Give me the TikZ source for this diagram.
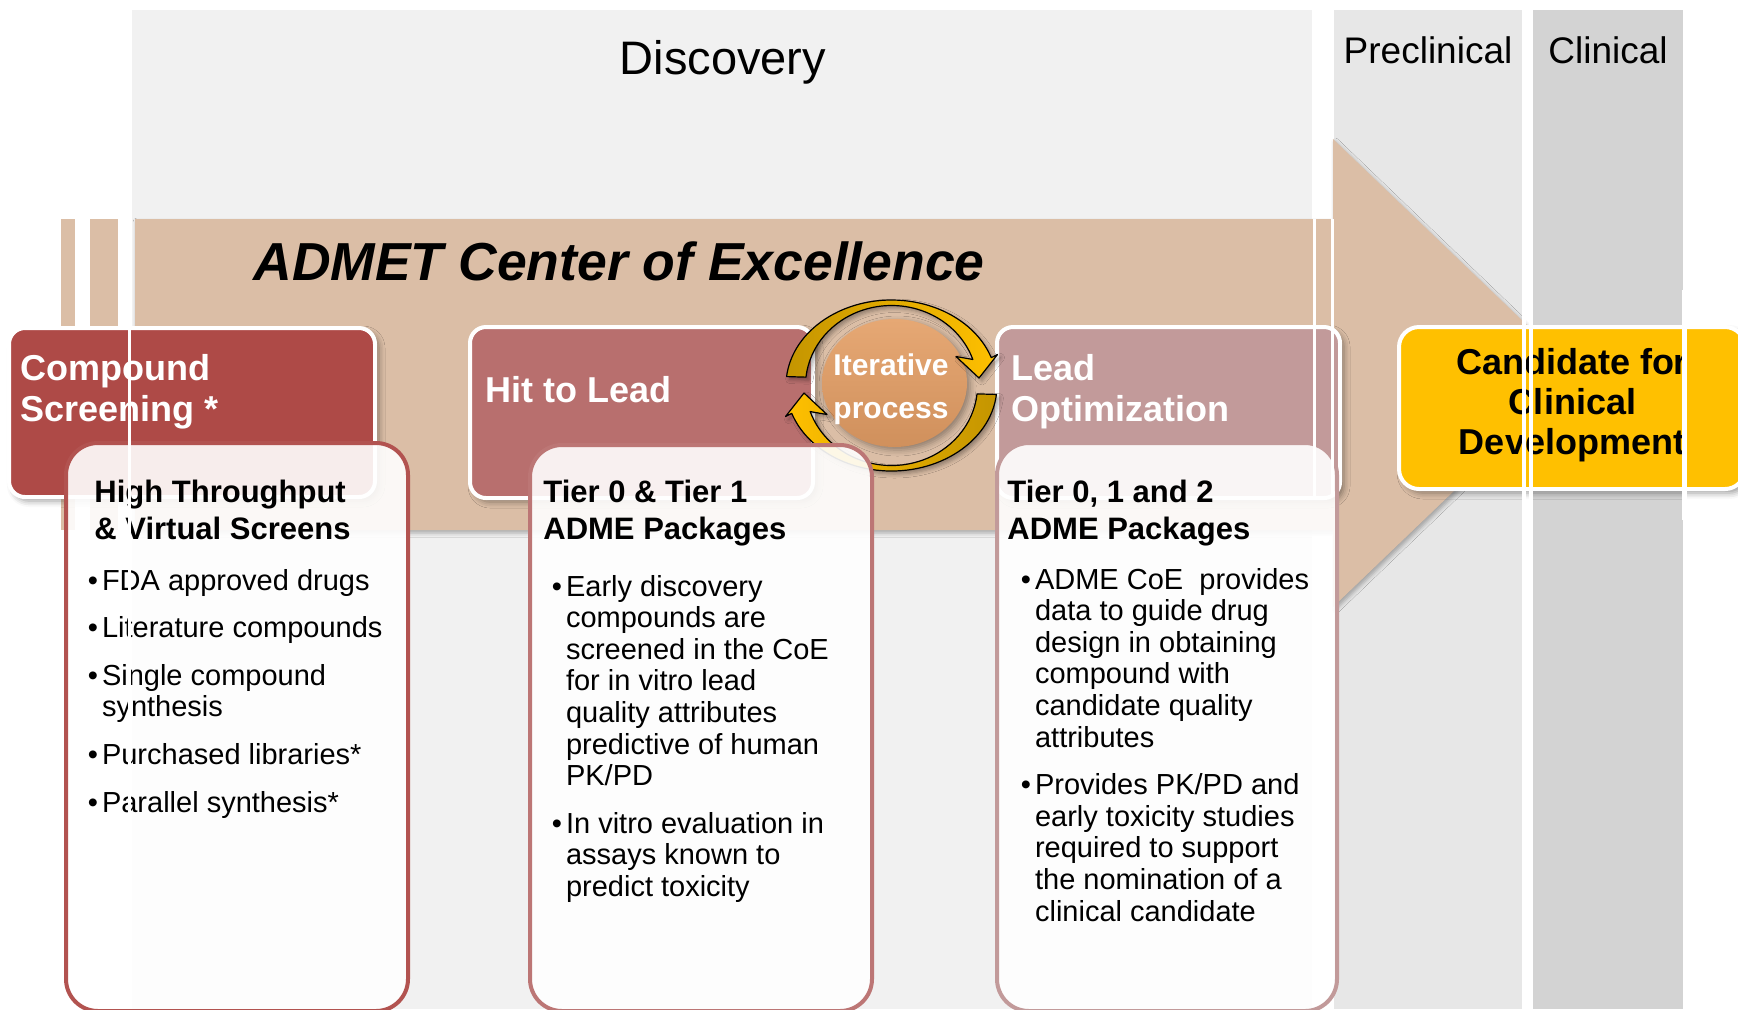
\documentclass[tikz,border=0pt]{standalone}
\usepackage{fontspec}
\setmainfont{Liberation Sans}
\usetikzlibrary{shadows.blur}
\definecolor{discgray}{HTML}{F1F1F1}
\definecolor{preclgray}{HTML}{E7E7E7}
\definecolor{clingray}{HTML}{D3D3D3}
\definecolor{bandtan}{HTML}{DBBEA6}
\definecolor{screenred}{HTML}{AE4A47}
\definecolor{hitrose}{HTML}{B86F6E}
\definecolor{leadrose}{HTML}{C29A9A}
\definecolor{candgold}{HTML}{FFC000}
\definecolor{darkgold}{HTML}{C49500}
\definecolor{iterlight}{HTML}{E6A874}
\definecolor{iterdark}{HTML}{D0905C}
\newcommand{\discfont}{\fontsize{23.5}{28}\selectfont}
\newcommand{\phasefont}{\fontsize{18.5}{22}\selectfont}
\newcommand{\admetfont}{\fontsize{26.75}{32}\selectfont\bfseries\itshape}
\newcommand{\hdrfont}{\fontsize{18}{20.5}\selectfont\bfseries}
\newcommand{\candfont}{\fontsize{18}{20}\selectfont\bfseries}
\newcommand{\titlefont}{\fontsize{15.5}{18.75}\selectfont\bfseries}
\newcommand{\listfont}{\fontsize{14.5}{15.8}\selectfont}
\newcommand{\iterfont}{\fontsize{15}{21.5}\selectfont\bfseries}
\newcommand{\bul}{\textbullet\hspace{2pt}}
\newcommand{\ind}{\hphantom{\textbullet\hspace{2pt}}}

\begin{document}
\begin{tikzpicture}[x=0.5pt, y=-0.5pt,
  phase/.style={anchor=base, inner sep=0pt},
  hdrbox/.style={draw=white, line width=2pt, rounded corners=8pt,
    blur shadow={shadow xshift=2pt, shadow yshift=-2pt, shadow blur radius=3pt, shadow opacity=40}},
  infobox/.style={line width=2pt, rounded corners=16pt, fill=white, fill opacity=0.9},
  hdrtext/.style={font=\hdrfont, text=white, align=left, anchor=base west, inner sep=0pt},
  boxtitle/.style={font=\titlefont, align=left, anchor=base west, inner sep=0pt},
  bullets/.style={font=\listfont, align=left, anchor=base west, inner sep=0pt},
  cyclearrow/.style={draw=black, line width=0.6pt, line join=round,
    blur shadow={shadow xshift=1.5pt, shadow yshift=-1.5pt, shadow blur radius=2pt, shadow opacity=35}},
  gapline/.style={white, line width=1.5pt}]
\useasboundingbox (0,0) rectangle (1738,1009);

\fill[discgray] (132,10) rectangle (1312,1009);
\fill[preclgray] (1334,10) rectangle (1522,1009);
\fill[clingray] (1533,10) rectangle (1683,1009);
\node[phase, font=\discfont] (disc) at (723,74) {Discovery};
\node[phase, font=\phasefont] (precl) at (1428,63) {Preclinical};
\node[phase, font=\phasefont] (clin) at (1608,63) {Clinical};

\fill[bandtan] (61,219) rectangle (75,530);
\fill[bandtan] (90,219) rectangle (118,530);
\path[fill=bandtan, blur shadow={shadow xshift=1pt, shadow yshift=-1.5pt, shadow blur radius=2pt, shadow opacity=30}]
  (135,219) -- (1333,219) -- (1333,139) -- (1577,373) -- (1333,607) -- (1333,530) -- (135,530) -- cycle;

\node[font=\admetfont, anchor=base west, inner sep=0pt] (admet) at (253,280) {ADMET Center of Excellence};

\path[hdrbox, fill=screenred] (9,328) rectangle (375,497);
\path[hdrbox, fill=hitrose] (470,327) rectangle (813,498);
\path[hdrbox, fill=leadrose] (997,327) rectangle (1340,498);
\path[hdrbox, fill=candgold, rounded corners=10pt] (1399,327) rectangle (1745,489);
\node[hdrtext] (cs-text) at (20,421) {Compound\\Screening *};
\node[hdrtext] (hl-text) at (485,402) {Hit to Lead};
\node[hdrtext] (lo-text) at (1011,421) {Lead\\Optimization};
\node[font=\candfont, align=center, anchor=base, inner sep=0pt] (cand-text) at (1572,454) {Candidate for\\Clinical\\Development};

\path[top color=iterlight, bottom color=iterdark,
  blur shadow={shadow xshift=1.5pt, shadow yshift=-1.5pt, shadow blur radius=3pt, shadow opacity=35}]
  (894.5,383) ellipse [x radius=72.5, y radius=64];
\node[font=\iterfont, text=white, align=center, anchor=base, inner sep=0pt] (iter) at (891,418) {Iterative\\process};

\begin{scope}[shift={(891.5,385.5)}]
\path[cyclearrow, left color=darkgold, right color=candgold]
  (186:105.5 and 85.5) arc[start angle=186, end angle=341, x radius=105.5, y radius=85.5]
  -- (106,-31) -- (87.5,-7.5) -- (64.5,-29)
  -- (341:86 and 80) arc[start angle=341, end angle=186, x radius=86, y radius=80] -- cycle;
\path[cyclearrow, left color=candgold, right color=darkgold]
  (6:105.5 and 85.5) arc[start angle=6, end angle=161, x radius=105.5, y radius=85.5]
  -- (-106,31) -- (-87.5,7.5) -- (-64.5,29)
  -- (161:86 and 80) arc[start angle=161, end angle=6, x radius=86, y radius=80] -- cycle;
\end{scope}

\path[infobox, draw=screenred!95!white] (66,443) rectangle (408,1011);
\path[infobox, draw=hitrose!95!white] (530,445) rectangle (872,1011);
\path[infobox, draw=leadrose] (997,443) rectangle (1337,1011);

\node[boxtitle] (ht-title) at (94,539.5) {High Throughput\\\& Virtual Screens};
\node[bullets] (ht-list) at (87.5,812) {\bul FDA approved drugs\\[8pt]
  \bul Literature compounds\\[8pt]
  \bul Single compound\\
  \ind synthesis\\[8pt]
  \bul Purchased libraries*\\[8pt]
  \bul Parallel synthesis*};

\node[boxtitle] (t01-title) at (543,539.5) {Tier 0 \& Tier 1\\ADME Packages};
\node[bullets] (t01-list) at (551.5,896.5) {\bul Early discovery\\
  \ind compounds are\\
  \ind screened in the CoE\\
  \ind for in vitro lead\\
  \ind quality attributes\\
  \ind predictive of human\\
  \ind PK/PD\\[8pt]
  \bul In vitro evaluation in\\
  \ind assays known to\\
  \ind predict toxicity};

\node[boxtitle] (t012-title) at (1007,539.5) {Tier 0, 1 and 2\\ADME Packages};
\node[bullets] (t012-list) at (1020.5,921) {\bul ADME CoE\ \ provides\\
  \ind data to guide drug\\
  \ind design in obtaining\\
  \ind compound with\\
  \ind candidate quality\\
  \ind attributes\\[8pt]
  \bul Provides PK/PD and\\
  \ind early toxicity studies\\
  \ind required to support\\
  \ind the nomination of a\\
  \ind clinical candidate};

\draw[gapline] (129.5,219) -- (129.5,1009);
\draw[gapline] (1314.5,219) -- (1314.5,496);
\draw[gapline] (1332,219) -- (1332,496);
\draw[gapline, line width=2pt] (1524,290) -- (1524,520);
\draw[gapline, line width=2pt] (1531,290) -- (1531,520);
\draw[gapline, line width=2.5pt] (1684.5,290) -- (1684.5,520);
\end{tikzpicture}
\end{document}
